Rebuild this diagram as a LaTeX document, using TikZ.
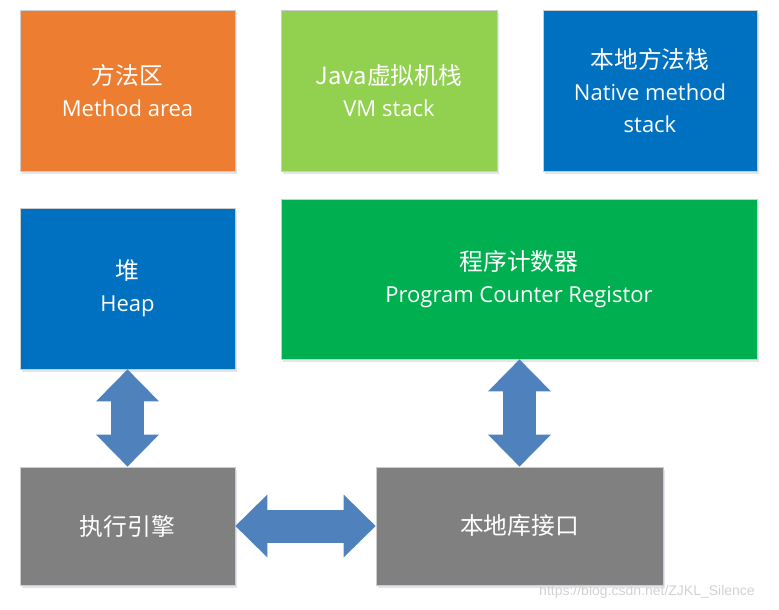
\documentclass[tikz,border=0pt]{standalone}
\usepackage{fontspec}
\setmainfont{Open Sans}
\newfontfamily\cjk{Noto Sans CJK SC}[Scale=1.08]
\usetikzlibrary{arrows.meta, shadows}

\definecolor{methodorange}{HTML}{ED7D31}
\definecolor{stackgreen}{HTML}{92D050}
\definecolor{nativeblue}{HTML}{0070C0}
\definecolor{pcgreen}{HTML}{00B050}
\definecolor{enginegray}{HTML}{808080}
\definecolor{arrowblue}{HTML}{4F81BD}

\tikzset{
  area/.style={draw=black!20, line width=0.8pt, text=white, align=center,
    font=\fontsize{22}{32}\selectfont, inner sep=0pt,
    drop shadow={shadow xshift=1.5pt, shadow yshift=-3pt, fill=blue!40!black!30, opacity=.35}},
  link/.style={draw=arrowblue, line width=33pt,
    {Triangle[width=63pt, length=32pt, line width=0pt]}-{Triangle[width=63pt, length=32pt, line width=0pt]}}
}

\begin{document}
\begin{tikzpicture}[x=1pt, y=-1pt]
                \useasboundingbox (0,0) rectangle (779,610);
                % top row
                \node[area, fill=methodorange, minimum width=215pt, minimum height=161pt] (method) at (127.5,90.5) {{\cjk 方法区}\\Method area};
                \node[area, fill=stackgreen, minimum width=216pt, minimum height=161pt] (vmstack) at (389,90.5) {{\cjk Java虚拟机栈}\\VM stack};
                \node[area, fill=nativeblue, minimum width=214pt, minimum height=161pt] (native) at (650,90.5) {{\cjk 本地方法栈}\\Native method\\stack};
                % middle row
                \node[area, fill=nativeblue, minimum width=215pt, minimum height=161pt] (heap) at (127.5,288.5) {{\cjk 堆}\\Heap};
                \node[area, fill=pcgreen, minimum width=476pt, minimum height=160pt] (pc) at (519,279) {{\cjk 程序计数器}\\Program Counter Registor};
                % bottom row
                \node[area, fill=enginegray, minimum width=215pt, minimum height=118pt] (engine) at (127.5,526) {\cjk 执行引擎};
                \node[area, fill=enginegray, minimum width=287pt, minimum height=118pt] (jni) at (519.5,526) {\cjk 本地库接口};
                % block arrows
                \draw[link] (heap.south) -- (engine.north);
                \draw[link] (pc.south -| jni.north) -- (jni.north);
                \draw[link] (engine.east) -- (jni.west);
                \node[text=black!18, font=\fontsize{14}{14}\selectfont\fontspec{Liberation Sans}] (mark) at (647,592) {https://blog.csdn.net/ZJKL\_Silence};
            \end{tikzpicture}
\end{document}
